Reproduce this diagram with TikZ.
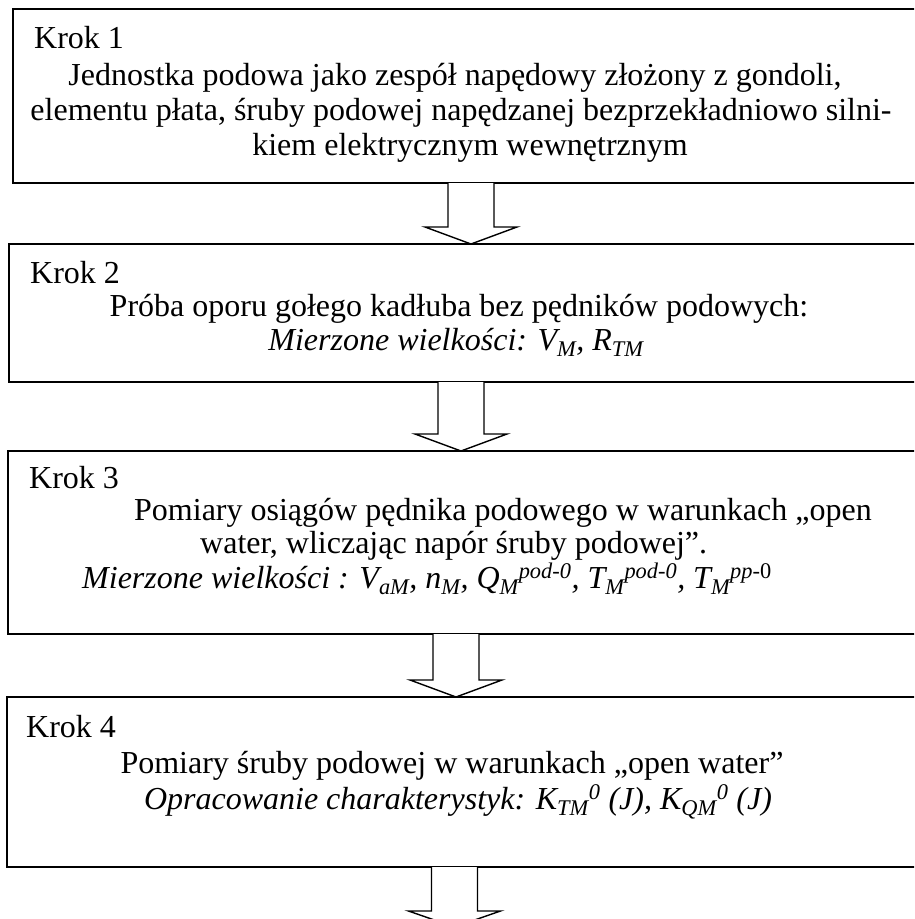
\documentclass[tikz,border=0pt]{standalone}
\usepackage{fontspec}
\setmainfont{Liberation Serif}
\usetikzlibrary{calc}
\begin{document}
\begin{tikzpicture}[x=1pt,y=-1pt,
  stepbox/.style={draw=black, line width=1.6pt, rectangle, inner sep=0pt, outer sep=0pt},
  txt/.style={inner sep=0pt, font=\fontsize{32}{36}\selectfont},
  blockarrow/.style={draw=black, line width=1.4pt, fill=white, line join=miter}]
\useasboundingbox (0,0) rectangle (914,919);
\clip (0,0) rectangle (914,919);
% boxes
\node[stepbox, minimum width=905pt, minimum height=174pt] (b1) at (465.5,96) {};
\node[stepbox, minimum width=909pt, minimum height=138pt] (b2) at (463.5,313) {};
\node[stepbox, minimum width=910pt, minimum height=183pt] (b3) at (463,542.5) {};
\node[stepbox, minimum width=911pt, minimum height=170pt] (b4) at (462.5,782) {};
% box 1 text
\node[txt, anchor=base west] (k1) at (34,48) {Krok 1};
\node[txt, anchor=base] (t1a) at (455,85) {Jednostka podowa jako zespół napędowy złożony z gondoli,};
\node[txt, anchor=base] (t1b) at (461,120) {elementu płata, śruby podowej napędzanej bezprzekładniowo silni-};
\node[txt, anchor=base] (t1c) at (470,155) {kiem elektrycznym wewnętrznym};
% box 2 text
\node[txt, anchor=base west] (k2) at (30,283) {Krok 2};
\node[txt, anchor=base] (t2a) at (459,316) {Próba oporu gołego kadłuba bez pędników podowych:};
\node[txt, anchor=base] (t2b) at (456,350) {\itshape Mierzone wielkości: V\textsubscript{M}, R\textsubscript{TM}};
% box 3 text
\node[txt, anchor=base west] (k3) at (29,488) {Krok 3};
\node[txt, anchor=base west] (t3a) at (134,520) {Pomiary osiągów pędnika podowego w warunkach „open};
\node[txt, anchor=base west] (t3b) at (200,553) {water, wliczając napór śruby podowej”.};
\node[txt, anchor=base west] (t3c) at (82,588) {\itshape Mierzone wielkości : V\textsubscript{aM}, n\textsubscript{M}, Q\textsubscript{M}\textsuperscript{pod-0}, T\textsubscript{M}\textsuperscript{pod-0}, T\textsubscript{M}\textsuperscript{pp-\textup{0}}};
% box 4 text
\node[txt, anchor=base west] (k4) at (26,737) {Krok 4};
\node[txt, anchor=base] (t4a) at (452,773) {Pomiary śruby podowej w warunkach „open water”};
\node[txt, anchor=base] (t4b) at (458,809) {\itshape Opracowanie charakterystyk: K\textsubscript{TM}\textsuperscript{0} (J), K\textsubscript{QM}\textsuperscript{0} (J)};
% arrows
\coordinate (a1) at (471,0);
\coordinate (a2) at (461,0);
\coordinate (a3) at (456,0);
\coordinate (a4) at (454.5,0);
\coordinate (e4) at (454.5,927);
\draw[blockarrow] ($(a1 |- b1.south)+(-23,0)$) -- ($(a1 |- b2.north)+(-23,-17)$) -- ($(a1 |- b2.north)+(-46,-17)$) -- (a1 |- b2.north) -- ($(a1 |- b2.north)+(46,-17)$) -- ($(a1 |- b2.north)+(23,-17)$) -- ($(a1 |- b1.south)+(23,0)$);
\draw[blockarrow] ($(a2 |- b2.south)+(-23,0)$) -- ($(a2 |- b3.north)+(-23,-17)$) -- ($(a2 |- b3.north)+(-46,-17)$) -- (a2 |- b3.north) -- ($(a2 |- b3.north)+(46,-17)$) -- ($(a2 |- b3.north)+(23,-17)$) -- ($(a2 |- b2.south)+(23,0)$);
\draw[blockarrow] ($(a3 |- b3.south)+(-23,0)$) -- ($(a3 |- b4.north)+(-23,-17)$) -- ($(a3 |- b4.north)+(-46,-17)$) -- (a3 |- b4.north) -- ($(a3 |- b4.north)+(46,-17)$) -- ($(a3 |- b4.north)+(23,-17)$) -- ($(a3 |- b3.south)+(23,0)$);
\draw[blockarrow] ($(a4 |- b4.south)+(-23,0)$) -- ($(e4)+(-23,-16)$) -- ($(e4)+(-46,-16)$) -- (e4) -- ($(e4)+(46,-16)$) -- ($(e4)+(23,-16)$) -- ($(a4 |- b4.south)+(23,0)$);
\end{tikzpicture}
\end{document}
